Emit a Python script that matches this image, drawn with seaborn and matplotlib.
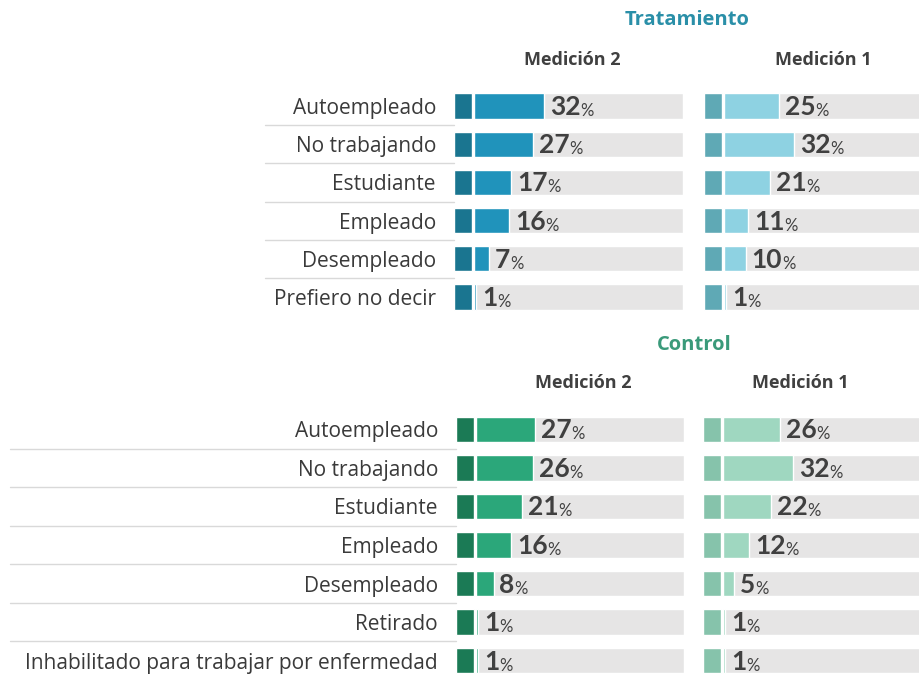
import matplotlib
matplotlib.use("Agg")
import matplotlib.pyplot as plt
import matplotlib.transforms as mtransforms
import pandas as pd
import seaborn as sns

# ==========================================
# DATA
# ==========================================
tratamiento_cats = ["Autoempleado", "No trabajando", "Estudiante", "Empleado",
                    "Desempleado", "Prefiero no decir"]
tratamiento_m2 = [32, 27, 17, 16, 7, 1]
tratamiento_m1 = [25, 32, 21, 11, 10, 1]

control_cats = ["Autoempleado", "No trabajando", "Estudiante", "Empleado",
                "Desempleado", "Retirado", "Inhabilitado para trabajar por enfermedad"]
control_m2 = [27, 26, 21, 16, 8, 1, 1]
control_m1 = [26, 32, 22, 12, 5, 1, 1]

group_titles = ["Tratamiento", "Control"]
panel_titles = ["Medición 2", "Medición 1"]

# ==========================================
# CONFIGURATION
# ==========================================
W, H = 920, 675
PX_PER_PCT = 2.2     # horizontal scale of the bars
STUB = 8.2           # dark leading block (in % units)
GAP = 0.9            # white gap between dark block and bar
BAR_H = 0.66
GREY = "#e6e5e5"
TEXT = "#404040"
LABEL = "#3a3a3a"
SEP = "#d9d9d9"

sns.set_theme(style="white")
plt.rcParams["font.family"] = ["Lato", "DejaVu Sans"]

fig = plt.figure(figsize=(W / 100, H / 100), dpi=100)
fig.patch.set_facecolor("white")


def px_axes(x0, y0, x1, y1):
    """Axes placed with pixel coordinates measured from the top-left."""
    return fig.add_axes([x0 / W, 1 - y1 / H, (x1 - x0) / W, (y1 - y0) / H])


def draw_panel(ax, cats, values, dark, light, show_labels, sep_from=None):
    n = len(cats)
    df = pd.DataFrame({"cat": cats, "val": values})
    width_px = ax.get_position().width * W
    left = -(STUB + GAP)
    right = left + width_px / PX_PER_PCT

    # grey track, dark stub, then the value bar
    ax.barh(range(n), right, left=0, height=BAR_H, color=GREY, zorder=0.5)
    ax.barh(range(n), STUB, left=left, height=BAR_H, color=dark, zorder=1)
    sns.barplot(data=df, x="val", y="cat", color=light, width=BAR_H,
                saturation=1, errorbar=None, ax=ax, zorder=2)

    ax.set_xlim(left, right)
    ax.set_ylim(n - 0.5, -0.5)
    ax.set_xticks([])
    ax.set_xlabel("")
    ax.set_ylabel("")
    sns.despine(ax=ax, left=True, bottom=True)

    if show_labels:
        ax.tick_params(axis="y", length=0, pad=13, labelcolor=LABEL)
        for lab in ax.get_yticklabels():
            lab.set_fontfamily(["Open Sans", "DejaVu Sans"])
            lab.set_fontsize(15)
    else:
        ax.tick_params(axis="y", length=0, labelleft=False)

    for i, v in enumerate(values):
        num = ax.annotate(f"{v}", xy=(v, i), xytext=(4, -6.5), textcoords="offset points",
                          ha="left", va="baseline", fontsize=19, fontweight="bold",
                          color=TEXT, zorder=3)
        ax.annotate("%", xy=(1, 0), xycoords=num, xytext=(0, 0),
                    textcoords="offset points", ha="left", va="bottom",
                    fontsize=12, color=TEXT, zorder=3)

    # thin separators between category rows
    if sep_from is not None:
        trans = mtransforms.blended_transform_factory(fig.transFigure, ax.transData)
        x_end = ax.get_position().x0
        for i in range(n - 1):
            ax.plot([sep_from / W, x_end], [i + 0.5, i + 0.5], transform=trans,
                    color=SEP, lw=1, clip_on=False, zorder=0)


# --- Tratamiento ---
ax_t2 = px_axes(454, 87, 683, 316)
draw_panel(ax_t2, tratamiento_cats, tratamiento_m2, "#1a7590", "#2093bb", True, sep_from=265)
ax_t1 = px_axes(704, 87, 940, 316)
draw_panel(ax_t1, tratamiento_cats, tratamiento_m1, "#5fa9b5", "#8ed2e2", False)

# --- Control ---
ax_c2 = px_axes(456, 410, 684, 680)
draw_panel(ax_c2, control_cats, control_m2, "#1b7a55", "#2ba77a", True, sep_from=10)
ax_c1 = px_axes(703, 410, 940, 680)
draw_panel(ax_c1, control_cats, control_m1, "#86c3ab", "#9fd7c0", False)

# headers
hdr = dict(ha="center", va="center", fontweight="bold", family=["Open Sans", "DejaVu Sans"])
fig.text(687 / W, 1 - 20 / H, group_titles[0], fontsize=14.5, color="#2a8fa8", **hdr)
fig.text(572 / W, 1 - 60 / H, panel_titles[0], fontsize=13, color=TEXT, **hdr)
fig.text(823 / W, 1 - 60 / H, panel_titles[1], fontsize=13, color=TEXT, **hdr)
fig.text(694 / W, 1 - 345 / H, group_titles[1], fontsize=14.5, color="#3a9a7a", **hdr)
fig.text(583 / W, 1 - 383 / H, panel_titles[0], fontsize=13, color=TEXT, **hdr)
fig.text(800 / W, 1 - 383 / H, panel_titles[1], fontsize=13, color=TEXT, **hdr)

fig.savefig("out.png", dpi=100, facecolor="white")
